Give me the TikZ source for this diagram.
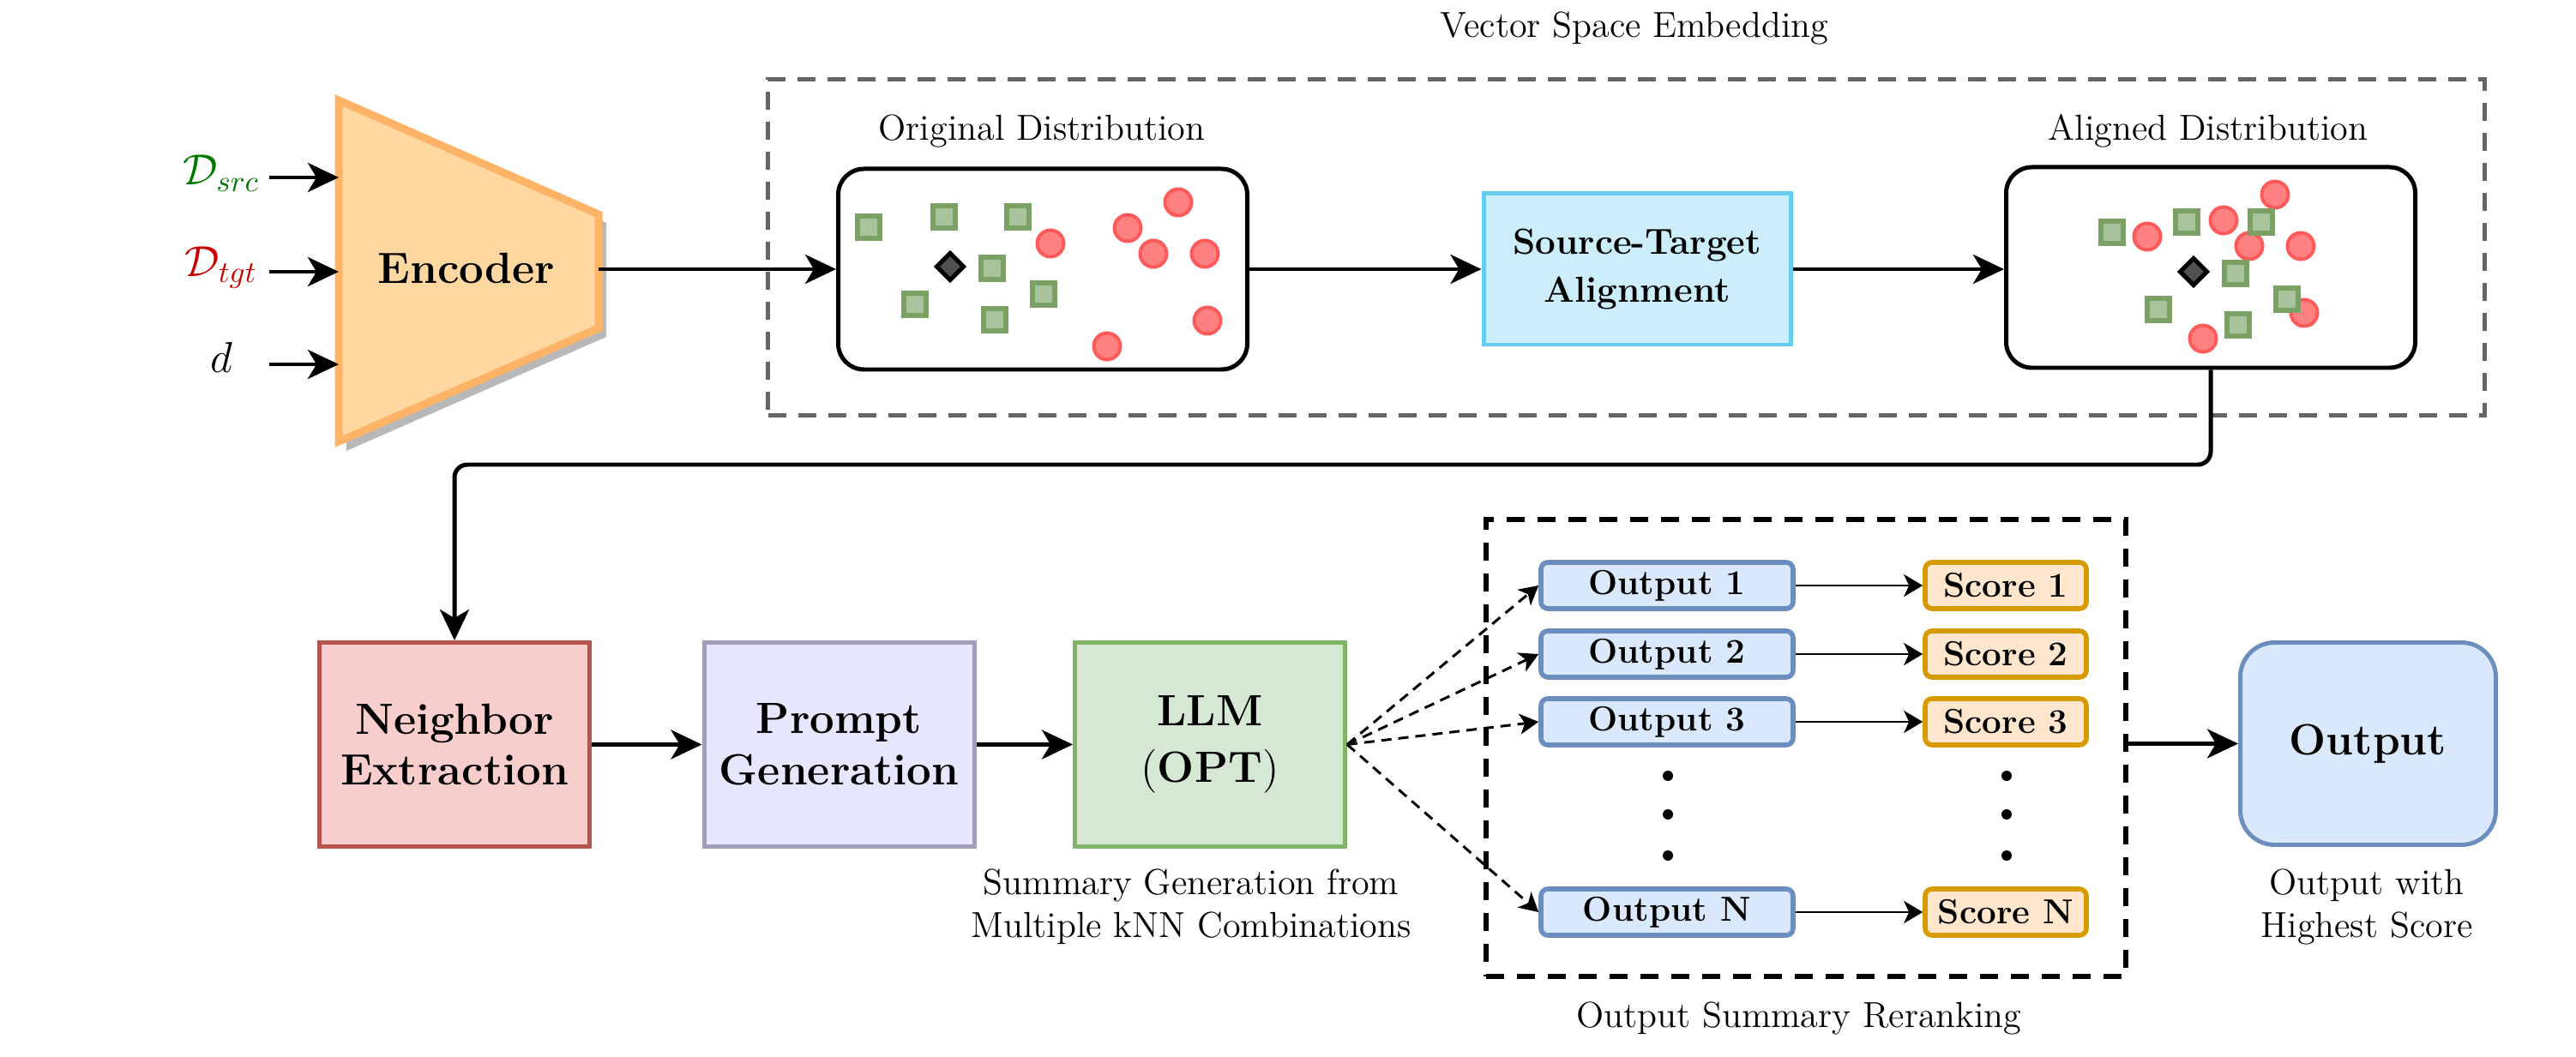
\documentclass[tikz,border=0pt]{standalone}
\usepackage{fontspec}
\usetikzlibrary{arrows.meta}
\definecolor{encfill}{HTML}{FFD8A1}
\definecolor{encstroke}{HTML}{FFB366}
\definecolor{encshadow}{HTML}{B8B8B8}
\definecolor{nfill}{HTML}{F8CECC}
\definecolor{nstroke}{HTML}{B85450}
\definecolor{pfill}{HTML}{E6E6FF}
\definecolor{pstroke}{HTML}{A09EB9}
\definecolor{lfill}{HTML}{D5E8D4}
\definecolor{lstroke}{HTML}{82B366}
\definecolor{ofill}{HTML}{DAE8FC}
\definecolor{ostroke}{HTML}{6C8EBF}
\definecolor{sfill}{HTML}{FFE6CC}
\definecolor{sstroke}{HTML}{D79B00}
\definecolor{stafill}{HTML}{CCEEFA}
\definecolor{stastroke}{HTML}{66CCF0}
\definecolor{vecgray}{HTML}{666666}
\definecolor{sqfill}{HTML}{A9C49D}
\definecolor{sqstroke}{HTML}{7AA064}
\definecolor{cfill}{HTML}{FF8080}
\definecolor{cstroke}{HTML}{FF5A5A}
\definecolor{dfill}{HTML}{505050}
\definecolor{srcgreen}{RGB}{0,120,0}
\definecolor{tgtred}{RGB}{200,0,0}
\newcommand\fbig{\fontsize{14.5}{17}\selectfont\bfseries}
\newcommand\fmid{\fontsize{12}{16}\selectfont\bfseries}
\newcommand\fsml{\fontsize{11.5}{14}\selectfont\bfseries}
\newcommand\fcap{\fontsize{12}{14.2}\selectfont}
\newcommand\fmath{\fontsize{14.5}{17}\selectfont}
\tikzset{
  arr/.style={line width=1.42pt, -{Stealth[length=0.36cm,width=0.34cm,inset=0.1cm]}},
  thinarr/.style={line width=0.85pt, -{Stealth[length=0.22cm,width=0.26cm,inset=0.06cm]}},
  dasharr/.style={line width=0.85pt, dash pattern=on 0.12cm off 0.08cm, -{Stealth[length=0.22cm,width=0.24cm,inset=0.06cm]}},
  distbox/.style={draw=black, line width=1.42pt, rounded corners=0.3cm, minimum width=4.77cm, minimum height=2.34cm, inner sep=0},
  stabox/.style={draw=stastroke, fill=stafill, line width=1.42pt, minimum width=3.58cm, minimum height=1.76cm, align=center, font=\fmid},
  bigbox/.style={line width=1.42pt, minimum width=3.15cm, minimum height=2.38cm, align=center, font=\fbig},
  obox/.style={draw=ostroke, fill=ofill, line width=1.6pt, rounded corners=0.08cm, minimum width=2.94cm, minimum height=0.54cm, font=\fsml, inner sep=0},
  scbox/.style={draw=sstroke, fill=sfill, line width=1.6pt, rounded corners=0.08cm, minimum width=1.88cm, minimum height=0.54cm, font=\fsml, inner sep=0},
  captxt/.style={font=\fcap, align=center},
  sq/.style={draw=sqstroke, fill=sqfill, line width=0.06cm, minimum size=0.26cm, inner sep=0},
  rd/.style={circle, draw=cstroke, fill=cfill, line width=0.04cm, minimum size=0.31cm, inner sep=0},
  dm/.style={draw=black, fill=dfill, line width=0.05cm, minimum size=0.22cm, inner sep=0, rotate=45},
  dotn/.style={circle, fill=black, minimum size=0.12cm, inner sep=0},
}
\begin{document}
\begin{tikzpicture}[x=1cm,y=1cm]
\useasboundingbox (0,0) rectangle (30.04,-12.33);

% ---------- Encoder ----------
\fill[encshadow] (4.04,-1.27) -- (7.07,-2.60) -- (7.07,-3.93) -- (4.04,-5.26) -- cycle;
\draw[encstroke, fill=encfill, line width=2.56pt, line join=miter] (3.95,-1.17) -- (6.98,-2.50) -- (6.98,-3.83) -- (3.95,-5.15) -- cycle;
\node[font=\fbig] (enc) at (5.44,-3.13) {Encoder};

\node[font=\fmath, text=srcgreen] (dsrc) at (2.58,-2.02) {$\mathcal{D}_{src}$};
\node[font=\fmath, text=tgtred] (dtgt) at (2.58,-3.12) {$\mathcal{D}_{tgt}$};
\node[font=\fmath] (dd) at (2.58,-4.17) {$d$};
\coordinate (i1) at (3.14,-2.07); \coordinate (e1) at (3.95,-2.07);
\coordinate (i2) at (3.14,-3.17); \coordinate (e2) at (3.95,-3.17);
\coordinate (i3) at (3.14,-4.25); \coordinate (e3) at (3.95,-4.25);
\draw[arr] (i1) -- (e1);
\draw[arr] (i2) -- (e2);
\draw[arr] (i3) -- (e3);
\coordinate (eo) at (6.98,-3.14);

% ---------- Vector space embedding ----------
\node[draw=vecgray, line width=1.3pt, dash pattern=on 0.21cm off 0.14cm, minimum width=20.02cm, minimum height=3.92cm, inner sep=0] (vsbox) at (18.965,-2.885) {};
\node[captxt] (vstitle) at (19.06,-0.33) {Vector Space Embedding};

\node[distbox] (orig) at (12.16,-3.14) {};
\node[distbox] (alig) at (25.78,-3.12) {};
\node[captxt] (origt) at (12.15,-1.53) {Original Distribution};
\node[captxt] (aligt) at (25.75,-1.53) {Aligned Distribution};
\node[stabox] (sta) at (19.09,-3.14) {Source-Target\\Alignment};

\draw[arr] (eo) -- (eo -| orig.west);
\draw[arr] (orig.east) -- (sta.west);
\draw[arr] (sta.east) -- (sta.east -| alig.west);

% points: original
\foreach \x/\y [count=\i] in {12.25/2.84, 13.15/2.66, 13.74/2.36, 13.45/2.96, 14.05/2.96, 14.08/3.74, 12.91/4.04}
  \node[rd] (oc\i) at (\x,-\y) {};
\foreach \x/\y [count=\i] in {10.13/2.65, 11.01/2.53, 11.87/2.53, 11.57/3.13, 10.67/3.55, 12.17/3.43, 11.60/3.73}
  \node[sq] (os\i) at (\x,-\y) {};
\node[dm] (od) at (11.08,-3.11) {};

% points: aligned
\foreach \x/\y [count=\i] in {25.04/2.76, 25.93/2.57, 26.53/2.27, 26.23/2.87, 26.83/2.87, 26.87/3.65, 25.69/3.95}
  \node[rd] (ac\i) at (\x,-\y) {};
\foreach \x/\y [count=\i] in {24.63/2.71, 25.50/2.59, 26.37/2.59, 26.07/3.19, 25.17/3.61, 26.10/3.79, 26.67/3.49}
  \node[sq] (as\i) at (\x,-\y) {};
\node[dm] (ad) at (25.58,-3.17) {};

% ---------- Bottom row ----------
\node[bigbox, draw=nstroke, fill=nfill] (neigh) at (5.30,-8.685) {Neighbor\\Extraction};
\node[bigbox, draw=pstroke, fill=pfill] (prompt) at (9.785,-8.685) {Prompt\\Generation};
\node[bigbox, draw=lstroke, fill=lfill, font=\fontsize{14.5}{19}\selectfont] (llm) at (14.11,-8.685) {\bfseries LLM\\(\textbf{OPT})};
\node[captxt] (llmcap) at (13.89,-10.58) {Summary Generation from\\Multiple kNN Combinations};

\coordinate (turn) at (0,-5.42);
\draw[arr, rounded corners=0.15cm] (alig.south) -- (alig.south |- turn) -- (neigh.north |- turn) -- (neigh.north);
\draw[arr] (neigh.east) -- (prompt.west);
\draw[arr] (prompt.east) -- (llm.west);

% ---------- Reranking ----------
\node[draw=black, line width=1.7pt, dash pattern=on 0.21cm off 0.15cm, minimum width=7.46cm, minimum height=5.33cm, inner sep=0] (rr) at (21.06,-8.725) {};
\node[captxt] (rrcap) at (20.98,-11.88) {Output Summary Reranking};

\node[obox] (o1) at (19.44,-6.83) {Output 1};
\node[obox] (o2) at (19.44,-7.63) {Output 2};
\node[obox] (o3) at (19.44,-8.42) {Output 3};
\node[obox] (oN) at (19.44,-10.64) {Output N};
\node[scbox] (s1) at (23.39,-6.83) {Score 1};
\node[scbox] (s2) at (23.39,-7.63) {Score 2};
\node[scbox] (s3) at (23.39,-8.42) {Score 3};
\node[scbox] (sN) at (23.39,-10.64) {Score N};

\foreach \y [count=\i] in {9.05,9.50,9.98} {
  \node[dotn] (ld\i) at (19.45,-\y) {};
  \node[dotn] (rdt\i) at (23.40,-\y) {};
}

\draw[dasharr] (llm.east) -- (o1.west);
\draw[dasharr] (llm.east) -- (o2.west);
\draw[dasharr] (llm.east) -- (o3.west);
\draw[dasharr] (llm.east) -- (oN.west);
\draw[thinarr] (o1.east) -- (s1.west);
\draw[thinarr] (o2.east) -- (s2.west);
\draw[thinarr] (o3.east) -- (s3.west);
\draw[thinarr] (oN.east) -- (sN.west);

% ---------- Final output ----------
\node[draw=ostroke, fill=ofill, line width=1.42pt, rounded corners=0.4cm, minimum width=2.98cm, minimum height=2.36cm, font=\fbig] (outb) at (27.615,-8.675) {Output};
\node[captxt] (outcap) at (27.60,-10.58) {Output with\\Highest Score};
\draw[arr] (rr.east |- outb.west) -- (outb.west);

\end{tikzpicture}
\end{document}
